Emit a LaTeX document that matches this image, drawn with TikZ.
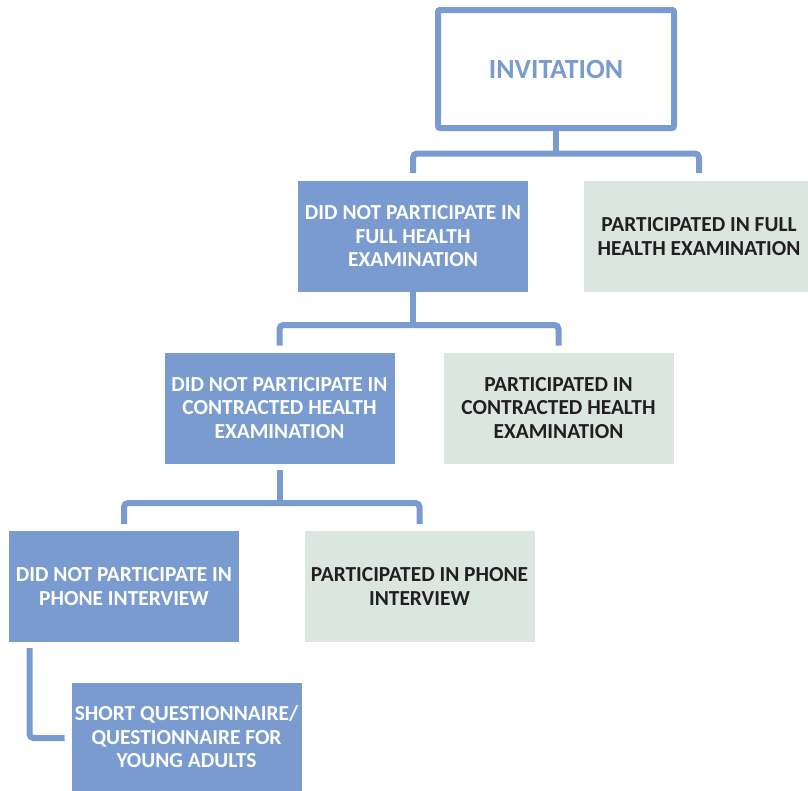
\documentclass[tikz,border=0pt]{standalone}
\usepackage{fontspec}
\setmainfont{Carlito}
\definecolor{flowblue}{RGB}{122,155,207}
\definecolor{flowgreen}{RGB}{220,230,224}
\definecolor{flowtext}{RGB}{35,31,32}
\tikzset{
  every node/.style={inner sep=0pt, outer sep=0pt, align=center},
  nobox/.style={fill=flowblue, text=white, minimum width=230pt, minimum height=111pt,
    font=\bfseries\fontsize{21.4}{23.5}\selectfont},
  yesbox/.style={fill=flowgreen, text=flowtext, minimum width=230pt, minimum height=111pt,
    font=\bfseries\fontsize{21.4}{23.5}\selectfont},
  topbox/.style={draw=flowblue, line width=6pt, rounded corners=2pt, fill=white, text=flowblue,
    minimum width=236pt, minimum height=118pt, font=\bfseries\fontsize{27.8}{32}\selectfont},
  conn/.style={draw=flowblue, line width=6pt, rounded corners=4pt}
}
\begin{document}
\begin{tikzpicture}[x=1pt,y=-1pt]
\useasboundingbox (0,0) rectangle (808,790);

% boxes
\node[topbox] (inv) at (556,69) {INVITATION};
\node[nobox] (nfull) at (413,236.5) {DID NOT PARTICIPATE IN\\FULL HEALTH\\EXAMINATION};
\node[yesbox] (pfull) at (699,236.5) {PARTICIPATED IN FULL\\HEALTH EXAMINATION};
\node[nobox] (ncon) at (279.5,408) {DID NOT PARTICIPATE IN\\CONTRACTED HEALTH\\EXAMINATION};
\node[yesbox] (pcon) at (558.5,408) {PARTICIPATED IN\\CONTRACTED HEALTH\\EXAMINATION};
\node[nobox] (nphone) at (124,586.5) {DID NOT PARTICIPATE IN\\PHONE INTERVIEW};
\node[yesbox] (pphone) at (419.5,586.5) {PARTICIPATED IN PHONE\\INTERVIEW};
\node[nobox, minimum height=108pt] (shortq) at (186.5,737) {SHORT QUESTIONNAIRE/\\QUESTIONNAIRE FOR\\YOUNG ADULTS};

% branch points
\coordinate (j1) at ([yshift=27.5pt]nfull.north);
\coordinate (j2) at ([yshift=27.5pt]ncon.north);
\coordinate (j3) at ([yshift=28pt]nphone.north);

% level 1
\draw[conn] ([yshift=3pt]inv.south) -- (inv.south |- j1);
\draw[conn] ([yshift=8pt]nfull.north) -- (j1) -- (j1 -| pfull.north) -- ([yshift=8pt]pfull.north);
% level 2
\draw[conn] (nfull.south) -- (nfull.south |- j2);
\draw[conn] ([yshift=7pt]ncon.north) -- (j2) -- (j2 -| pcon.north) -- ([yshift=7pt]pcon.north);
% level 3
\draw[conn] ([yshift=-6pt]ncon.south) -- (ncon.south |- j3);
\draw[conn] ([yshift=7pt]nphone.north) -- (j3) -- (j3 -| pphone.north) -- ([yshift=7pt]pphone.north);
% last step
\coordinate (j4) at (29.5,738);
\draw[conn] ([xshift=-94.5pt,yshift=-6pt]nphone.south) -- (j4) -- ([xshift=-7pt]j4 -| shortq.west);
\end{tikzpicture}
\end{document}
